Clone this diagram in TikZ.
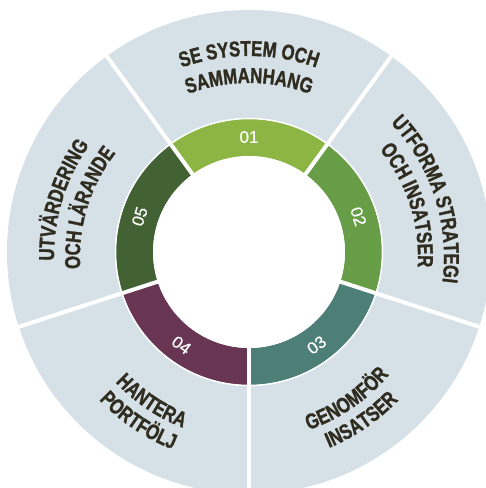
\documentclass[tikz,border=0pt]{standalone}
\usepackage{fontspec}
\usetikzlibrary{calc,decorations.text}
\newfontfamily\lblfont[FakeStretch=0.78,FakeBold=1.3,WordSpace=0.95]{Liberation Sans}
\newfontfamily\numfont[FakeBold=0.6]{Liberation Sans}
\definecolor{bggrey}{HTML}{D5E0E7}
\definecolor{segA}{HTML}{8DB543}
\definecolor{segB}{HTML}{689D47}
\definecolor{segC}{HTML}{4D7F78}
\definecolor{segD}{HTML}{683653}
\definecolor{segE}{HTML}{426234}
\definecolor{txt}{HTML}{302C1F}
\newcommand\lblstyle{\lblfont\bfseries\fontsize{21.5}{21.5}\selectfont}
\tikzset{
  numlbl/.style={text=white, font=\numfont\fontsize{17}{17}\selectfont, inner sep=0pt},
  arctext/.style={decorate, decoration={text along path, text align=center, text color=txt, text={|\lblstyle|#1}}},
  divider/.style={white, line width=4pt},
}
\begin{document}
\begin{tikzpicture}[x=1pt,y=1pt]
\useasboundingbox (0,0) rectangle (486,488);
\fill[white] (0,0) rectangle (486,488);
\clip (0,0) rectangle (486,488);
\coordinate (C) at (249,236);
\coordinate (L) at (249,231);
% outer grey disk
\fill[bggrey] (C) circle (242pt);
% ring segments
\foreach \a/\col in {54/segA, -18/segB, -90/segC, -162/segD, 126/segE}{
  \fill[\col] ($(C)+(\a:96pt)$) arc[start angle=\a, end angle=\a+72, radius=96pt]
    -- ($(C)+(\a+72:133pt)$) arc[start angle=\a+72, end angle=\a, radius=133pt] -- cycle;
}
\draw[white, line width=1.5pt] (C) circle (133.5pt);
% dividers
\foreach \a in {54,126,198,270,342}{
  \draw[divider] ($(C)+(\a:90pt)$) -- ($(C)+(\a:260pt)$);
}
\fill[white] (C) circle (96pt);
% numbers
\node[numlbl] (n1) at ($(C)+(90:115pt)$) {01};
\node[numlbl, rotate=-72] (n2) at ($(C)+(18:115pt)$) {02};
\node[numlbl, rotate=36] (n3) at ($(C)+(-54:115pt)$) {03};
\node[numlbl, rotate=-36] (n4) at ($(C)+(-126:115pt)$) {04};
\node[numlbl, rotate=72] (n5) at ($(C)+(162:115pt)$) {05};
% outer labels (tops outward: clockwise arcs)
\path[arctext={SE SYSTEM OCH}] ($(L)+(160:201pt)$) arc[start angle=160, end angle=20, radius=201pt];
\path[arctext={SAMMANHANG}] ($(L)+(160:174pt)$) arc[start angle=160, end angle=20, radius=174pt];
\path[arctext={UTFORMA STRATEGI}] ($(L)+(88:195pt)$) arc[start angle=88, end angle=-52, radius=195pt];
\path[arctext={OCH INSATSER}] ($(L)+(88:169pt)$) arc[start angle=88, end angle=-52, radius=169pt];
\path[arctext={UTVÄRDERING}] ($(L)+(233:195pt)$) arc[start angle=233, end angle=93, radius=195pt];
\path[arctext={OCH LÄRANDE}] ($(L)+(233:169pt)$) arc[start angle=233, end angle=93, radius=169pt];
% outer labels (tops inward: counter-clockwise arcs)
\path[arctext={GENOMFÖR}] ($(L)+(-125.5:183pt)$) arc[start angle=-125.5, end angle=14.5, radius=183pt];
\path[arctext={INSATSER}] ($(L)+(-125.5:207pt)$) arc[start angle=-125.5, end angle=14.5, radius=207pt];
\path[arctext={HANTERA}] ($(L)+(-194:183pt)$) arc[start angle=-194, end angle=-54, radius=183pt];
\path[arctext={PORTFÖLJ}] ($(L)+(-194:207pt)$) arc[start angle=-194, end angle=-54, radius=207pt];
\end{tikzpicture}
\end{document}
